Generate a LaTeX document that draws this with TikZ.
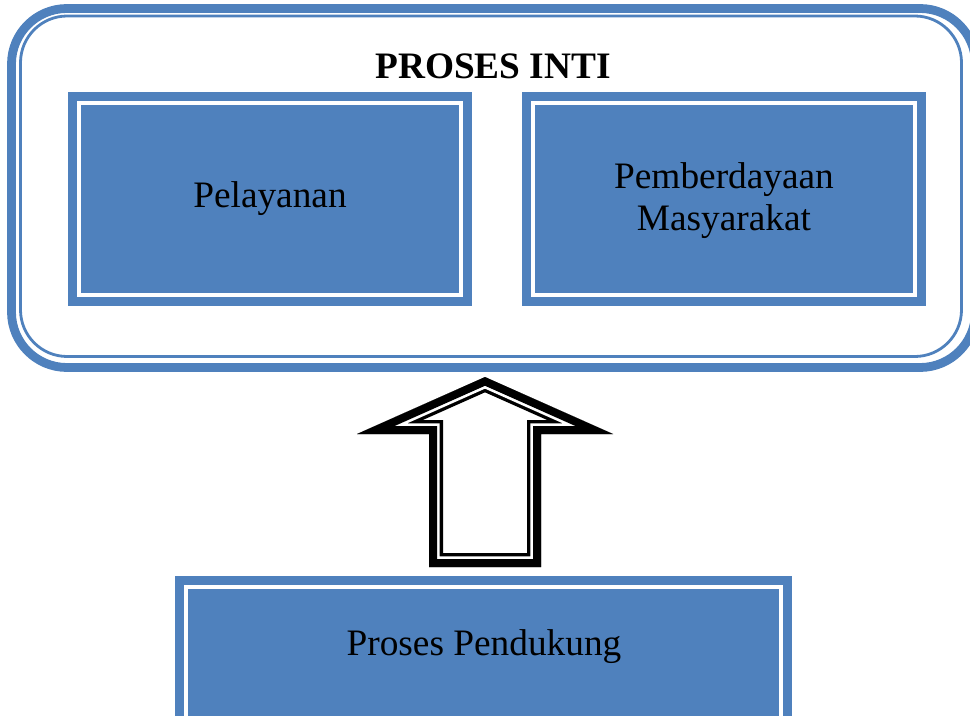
\documentclass[tikz,border=0pt]{standalone}
\usepackage{fontspec}
\setmainfont{Liberation Serif}
\definecolor{boxblue}{HTML}{4F81BD}
\tikzset{
  bigtext/.style={font=\fontsize{28}{31.5}\selectfont, align=center, inner sep=0pt},
  frameline/.style={draw=boxblue, line width=6.75pt},
  fillblue/.style={fill=boxblue},
}
\begin{document}
\begin{tikzpicture}[x=0.75pt,y=-0.75pt]
\useasboundingbox (0,0) rectangle (970,716);
\clip (0,0) rectangle (970,716);
% outer rounded frame
\draw[draw=boxblue, line width=6.6pt, rounded corners=41.6pt] (11.5,8.5) rectangle (975.5,367.5);
\draw[draw=boxblue, line width=2.1pt, rounded corners=35pt] (20.5,16) rectangle (961.5,356.5);
\node[bigtext, font=\fontsize{28}{31.5}\selectfont\bfseries, anchor=base] (title) at (493,79) {PROSES INTI};
% box 1
\draw[frameline] (72.5,96.5) rectangle (467.5,301.5);
\fill[fillblue] (81,105) rectangle (459,293);
\node[bigtext] (pel) at (270,199) {Pelayanan};
% box 2
\draw[frameline] (526.5,96.5) rectangle (921.5,301.5);
\fill[fillblue] (535,105) rectangle (913,293);
\node[bigtext] (pem) at (724,201) {Pemberdayaan\\Masyarakat};
% bottom box
\draw[frameline] (179.5,580.5) rectangle (787.5,730);
\fill[fillblue] (188,589) rectangle (779,730);
\node[bigtext] (pend) at (484,647) {Proses Pendukung};
% arrow
\begin{scope}
\clip (485,377) -- (613,434) -- (541,434) -- (541,567) -- (429,567) -- (429,434) -- (357,434) -- cycle;
\draw[black, line width=21pt, line join=miter] (485,377) -- (613,434) -- (541,434) -- (541,567) -- (429,567) -- (429,434) -- (357,434) -- cycle;
\draw[white, line width=16pt, line join=miter] (485,377) -- (613,434) -- (541,434) -- (541,567) -- (429,567) -- (429,434) -- (357,434) -- cycle;
\draw[black, line width=12pt, line join=miter] (485,377) -- (613,434) -- (541,434) -- (541,567) -- (429,567) -- (429,434) -- (357,434) -- cycle;
\end{scope}
\end{tikzpicture}
\end{document}
